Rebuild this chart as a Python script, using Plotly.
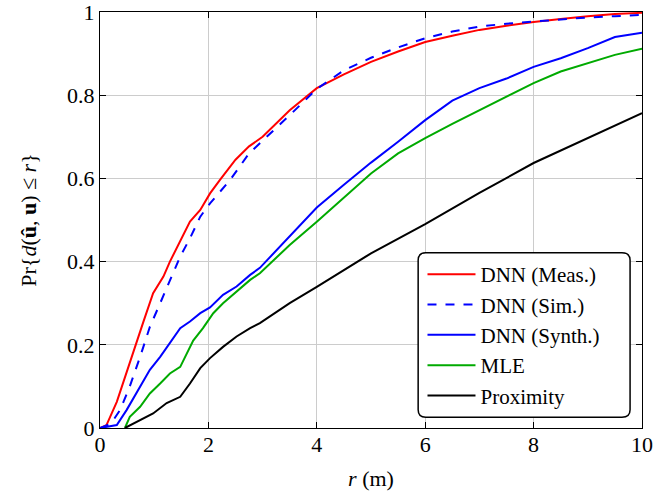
import plotly.graph_objects as go

# ---- data ----
r_meas = [0, 0.12, 0.31, 0.49, 0.68, 0.8, 0.98, 1.17, 1.29, 1.48, 1.66, 1.85, 2.03, 2.21, 2.5, 2.75, 3, 3.5, 4, 4.5, 5, 5.5, 6, 6.5, 7, 7.5, 8, 8.5, 9, 9.5, 10]
p_meas = [0, 0.007, 0.063, 0.135, 0.21, 0.255, 0.324, 0.364, 0.40, 0.448, 0.496, 0.524, 0.564, 0.596, 0.645, 0.677, 0.70, 0.764, 0.817, 0.85, 0.88, 0.905, 0.928, 0.943, 0.957, 0.967, 0.976, 0.983, 0.99, 0.995, 0.998]

r_sim = [0, 0.2, 0.37, 0.55, 0.74, 0.92, 1.11, 1.29, 1.48, 1.66, 1.85, 2.03, 2.4, 2.75, 3, 3.5, 4, 4.5, 5, 5.5, 6, 6.5, 7, 7.5, 8, 8.5, 9, 9.5, 10]
p_sim = [0, 0.01, 0.043, 0.10, 0.171, 0.243, 0.30, 0.356, 0.412, 0.456, 0.508, 0.54, 0.596, 0.66, 0.69, 0.752, 0.815, 0.86, 0.89, 0.915, 0.937, 0.953, 0.965, 0.972, 0.977, 0.982, 0.987, 0.99, 0.993]

r_synth = [0, 0.31, 0.49, 0.74, 0.92, 1.11, 1.29, 1.48, 1.66, 1.85, 2.03, 2.27, 2.52, 2.77, 2.95, 3.5, 4, 4.5, 5, 5.5, 6, 6.5, 7, 7.5, 8, 8.5, 9, 9.5, 10]
p_synth = [0, 0.007, 0.043, 0.10, 0.14, 0.171, 0.204, 0.24, 0.256, 0.276, 0.29, 0.32, 0.34, 0.368, 0.385, 0.46, 0.53, 0.585, 0.638, 0.688, 0.74, 0.787, 0.817, 0.84, 0.868, 0.889, 0.913, 0.94, 0.95]

r_mle = [0.46, 0.55, 0.74, 0.92, 1.11, 1.29, 1.48, 1.6, 1.72, 1.9, 2.09, 2.27, 2.52, 2.77, 2.95, 3.5, 4, 4.5, 5, 5.5, 6, 6.5, 7, 7.5, 8, 8.5, 9, 9.5, 10]
p_mle = [0, 0.027, 0.051, 0.083, 0.107, 0.131, 0.147, 0.18, 0.21, 0.24, 0.276, 0.30, 0.328, 0.356, 0.372, 0.44, 0.496, 0.555, 0.612, 0.66, 0.697, 0.731, 0.763, 0.795, 0.829, 0.857, 0.877, 0.897, 0.912]

r_prox = [0.46, 0.74, 0.98, 1.23, 1.48, 1.66, 1.85, 2.03, 2.27, 2.52, 2.77, 2.95, 3.5, 4, 4.5, 5, 6, 7, 8, 9, 10]
p_prox = [0, 0.019, 0.035, 0.06, 0.075, 0.107, 0.144, 0.168, 0.195, 0.22, 0.24, 0.252, 0.30, 0.339, 0.38, 0.42, 0.49, 0.565, 0.637, 0.697, 0.757]

x_ticks = [0, 2, 4, 6, 8, 10]
y_ticks = [0, 0.2, 0.4, 0.6, 0.8, 1]
y_tick_text = ["0", "0.2", "0.4", "0.6", "0.8", "1"]

series = [
    ("DNN (Meas.)", r_meas, p_meas, "#ff0000", "solid"),
    ("DNN (Sim.)", r_sim, p_sim, "#0000ff", "dash"),
    ("DNN (Synth.)", r_synth, p_synth, "#0000ff", "solid"),
    ("MLE", r_mle, p_mle, "#00aa00", "solid"),
    ("Proximity", r_prox, p_prox, "#000000", "solid"),
]

FONT = "Liberation Serif"
FS = 22

fig = go.Figure()
for i, (name, x, y, c, d) in enumerate(series):
    fig.add_trace(go.Scatter(x=x, y=y, mode="lines", name=name, legendgroup=f"g{i}",
                             line=dict(color=c, width=2, dash=d)))

axis_common = dict(showline=True, linecolor="black", linewidth=1, mirror="ticks",
                   ticks="inside", ticklen=6, tickcolor="black",
                   showgrid=True, gridcolor="#cccccc", gridwidth=1, zeroline=False,
                   automargin=False, ticklabeloverflow="allow",
                   tickfont=dict(family=FONT, size=FS, color="black"))

fig.update_layout(
    width=670, height=491,
    margin=dict(l=100, r=28, t=12, b=63),
    plot_bgcolor="white", paper_bgcolor="white",
    font=dict(family=FONT, size=FS, color="black"),
    xaxis=dict(range=[0, 10], tickvals=x_ticks, ticklabelstandoff=-3,
               title=dict(text="<i>r</i> (m)", font=dict(family=FONT, size=FS), standoff=16),
               **axis_common),
    yaxis=dict(range=[0, 1], tickvals=y_ticks, ticktext=y_tick_text,
               title=dict(text="Pr{<i>d</i>(<b>û</b>, <b>u</b>) ≤ <i>r</i>}", font=dict(family=FONT, size=FS), standoff=24),
               **axis_common),
    legend=dict(x=0.595, y=0.418, xanchor="left", yanchor="top",
                bgcolor="rgba(0,0,0,0)", borderwidth=0,
                font=dict(family=FONT, size=21, color="black"),
                tracegroupgap=0, itemwidth=48),
    shapes=[dict(type="path", xref="paper", yref="paper",
                 path="M 0.601,0.421 L 0.963,0.421 Q 0.978,0.421 0.978,0.403 L 0.978,0.044 Q 0.978,0.026 0.963,0.026 L 0.601,0.026 Q 0.587,0.026 0.587,0.044 L 0.587,0.403 Q 0.587,0.421 0.601,0.421 Z",
                 line=dict(color="black", width=1.5), fillcolor="white", layer="above")],
)

fig.write_html("out.html", config={"displayModeBar": False},
               post_script="document.body.style.margin='0';")
